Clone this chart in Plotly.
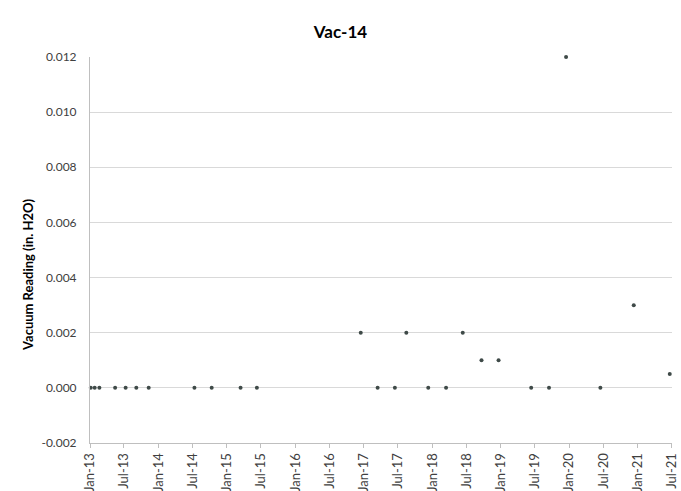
import plotly.graph_objects as go

dates = [
    "2013-01-05", "2013-01-26", "2013-02-20", "2013-05-15", "2013-07-10",
    "2013-09-05", "2013-11-10", "2014-07-12", "2014-10-12", "2015-03-15",
    "2015-06-10", "2016-12-15", "2017-03-15", "2017-06-15", "2017-08-15",
    "2017-12-10", "2018-03-15", "2018-06-12", "2018-09-20", "2018-12-20",
    "2019-06-12", "2019-09-15", "2019-12-15", "2020-06-15", "2020-12-10",
    "2021-06-20",
]
readings = [
    0.0, 0.0, 0.0, 0.0, 0.0,
    0.0, 0.0, 0.0, 0.0, 0.0,
    0.0, 0.002, 0.0, 0.0, 0.002,
    0.0, 0.0, 0.002, 0.001, 0.001,
    0.0, 0.0, 0.012, 0.0, 0.003,
    0.0005,
]

tick_dates = [f"{y}-{m:02d}-01" for y in range(2013, 2022) for m in (1, 7)]
tick_labels = [("Jan-" if d[5:7] == "01" else "Jul-") + d[2:4] for d in tick_dates]
y_ticks = [-0.002, 0.0, 0.002, 0.004, 0.006, 0.008, 0.010, 0.012]
y_tick_labels = [f"{v:.3f}" for v in y_ticks]

W, H = 681, 491
ML, MR, MT, MB = 90, 9, 57, 48

fig = go.Figure()
fig.add_trace(go.Scatter(
    x=dates, y=readings, mode="markers",
    marker=dict(size=4, color="#3f4a48"),
    cliponaxis=False,
    showlegend=False,
))

fig.update_layout(
    width=W, height=H,
    margin=dict(l=ML, r=MR, t=MT, b=MB),
    paper_bgcolor="white", plot_bgcolor="white",
    font=dict(family="Lato, Open Sans, sans-serif", size=11, color="#404040"),
    title=dict(text="<b>Vac-14</b>", x=0.5, xanchor="center", y=0.935, yanchor="middle",
               font=dict(size=17, color="#000000")),
    xaxis=dict(
        type="date", range=["2013-01-01", "2021-07-02"], automargin=False,
        tickvals=tick_dates, ticktext=tick_labels, tickangle=-90,
        showgrid=False, showline=True, linecolor="#bfbfbf", linewidth=1,
        ticks="outside", tickcolor="#bfbfbf", ticklen=4,
        tickfont=dict(size=13, color="#404040"),
    ),
    yaxis=dict(
        range=[-0.002, 0.012], tickvals=y_ticks, ticktext=y_tick_labels, automargin=False,
        showgrid=True, gridcolor="#d9d9d9", zeroline=False,
        showline=True, linecolor="#bfbfbf", linewidth=1,
        ticks="", ticklabelstandoff=10,
        tickfont=dict(size=12, color="#404040"),
    ),
    annotations=[dict(
        text="<b>Vacuum Reading (in. H2O)</b>", textangle=-90,
        xref="paper", yref="paper",
        x=(28 - ML) / (W - ML - MR), y=(H - MB - 275) / (H - MT - MB),
        xanchor="center", yanchor="middle", showarrow=False,
        font=dict(size=13, color="#000000"),
    )],
)

fig.write_html("out.html")
